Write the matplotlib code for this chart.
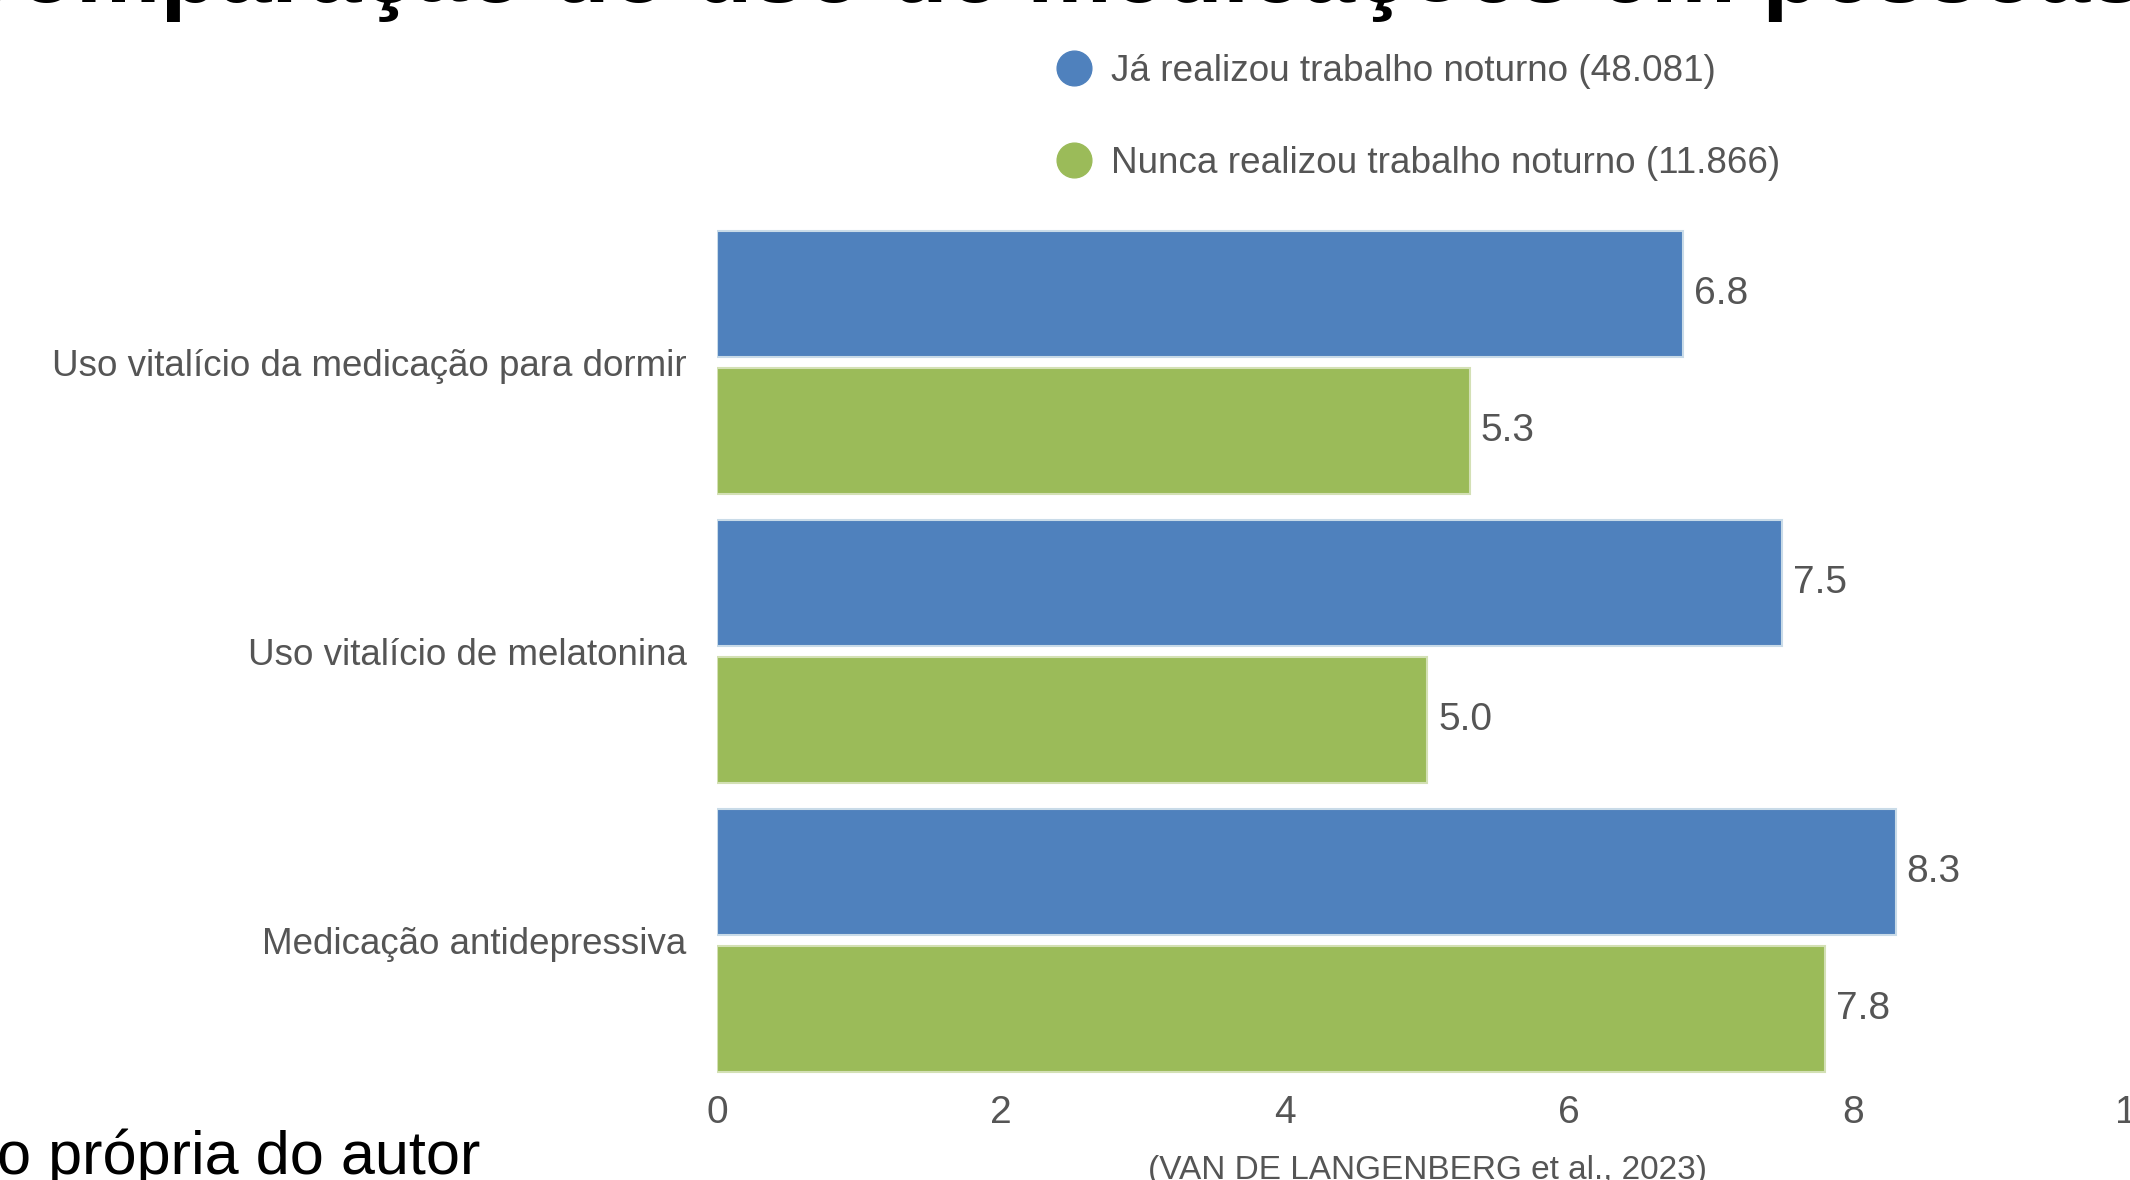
import numpy as np
import matplotlib.pyplot as plt
from matplotlib.lines import Line2D

# dados do gráfico
categorias = ['Uso vitalício da medicação para dormir',
              'Uso vitalício de melatonina',
              'Medicação antidepressiva']
ja_noturno = [6.8, 7.5, 8.3]
nunca_noturno = [5.3, 5.0, 7.8]
rotulos = ['Já realizou trabalho noturno (48.081)',
           'Nunca realizou trabalho noturno (11.866)']
ticks_x = [0, 2, 4, 6, 8, 10]

titulo = 'Comparação do uso de medicações em pessoas que realizam trabalho noturno'
fonte = 'Fonte: Elaboração própria do autor'
referencia = '(VAN DE LANGENBERG et al., 2023)'

azul = '#4f81bd'
verde = '#9bbb59'
cinza = '#555555'
fam = 'Liberation Sans'

fig = plt.figure(figsize=(21.3, 11.8), dpi=100)
ax = fig.add_axes([717/2130, 0.0756, 1420/2130, 0.7642])

y = np.arange(len(categorias))
h = 0.436
off = 0.238
b1 = ax.barh(y - off, ja_noturno, height=h, color=azul, edgecolor='#c9dbe8', linewidth=1.5)
b2 = ax.barh(y + off, nunca_noturno, height=h, color=verde, edgecolor='#d3e0b5', linewidth=1.5)

for barras in (b1, b2):
    ax.bar_label(barras, fmt='%.1f', padding=8, color=cinza, fontsize=28, family=fam)

ax.set_xlim(0, 10)
ax.set_ylim(2.52, -0.6)
ax.set_yticks(y)
ax.set_yticklabels(categorias, family=fam, fontsize=26.5)
ax.set_xticks(ticks_x)
ax.set_xticklabels([str(t) for t in ticks_x], family=fam, fontsize=28)
ax.tick_params(length=0, colors=cinza)
ax.tick_params(axis='x', pad=3)
ax.tick_params(axis='y', pad=22)
for s in ax.spines.values():
    s.set_visible(False)

# legenda
handles = [Line2D([], [], marker='o', ls='', markersize=25, color=c) for c in (azul, verde)]
leg = fig.legend(handles, rotulos, loc='upper left', bbox_to_anchor=(1056/2130, 1 - 54/1180),
                 frameon=False, prop={'family': fam, 'size': 26.6}, labelcolor=cinza,
                 handlelength=1.0, handletextpad=0.5, labelspacing=1.54, borderpad=0,
                 borderaxespad=0)

# textos do slide
fig.text(-51/2130, 1 - 2/1180, titulo, fontsize=68.5, fontweight='bold',
         family=fam, va='baseline', ha='left')
fig.text(480/2130, 6/1180, fonte, fontsize=44, family=fam,
         va='baseline', ha='right')
fig.text(1427/2130, 1 - 1170/1180, referencia, fontsize=24, family=fam,
         color=cinza, va='center', ha='center')

fig.savefig('out.png', dpi=100)
